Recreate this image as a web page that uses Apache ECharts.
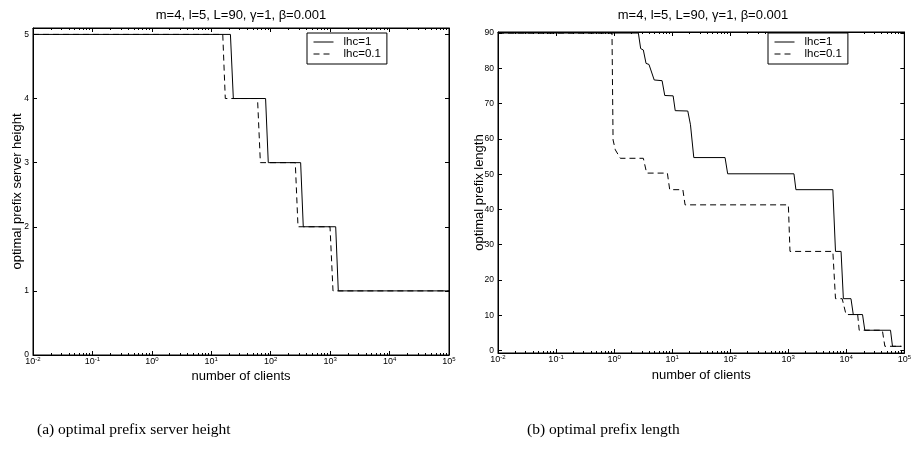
<!DOCTYPE html>
<html>
<head>
<meta charset="utf-8">
<script src="https://cdn.jsdelivr.net/npm/echarts@6/dist/echarts.min.js"></script>
<style>
  html, body { margin: 0; padding: 0; background: #fff; }
  #chart { width: 914px; height: 449px; }
</style>
</head>
<body>
<div id="chart"></div>
<script>
// (a) optimal prefix server height
const heightX_lhc1 = [0.01, 21, 23.5, 82, 91, 319, 353, 1240, 1371, 100000];
const heightY_lhc1 = [5, 5, 4, 4, 3, 3, 2, 2, 1, 1];
const heightX_lhc01 = [0.01, 15.6, 17.2, 60, 67, 259, 288, 995, 1117, 100000];
const heightY_lhc01 = [5, 5, 4, 4, 3, 3, 2, 2, 1, 1];

// (b) optimal prefix length
const lengthX_lhc1 = [0.01, 2.62, 2.87, 3.19, 3.55, 3.99, 4.91, 6.71, 7.46, 10.4, 11.3, 18.6, 20.7, 23.6,
  81.6, 90.5, 1254, 1356, 5870, 6520, 8130, 8910, 12050, 13200, 19050, 20850, 57800, 62500, 89000];
const lengthY_lhc1 = [90, 90, 85.6, 85.2, 81.4, 81.1, 76.7, 76.5, 72.3, 72.2, 68.0, 67.9, 64.0, 54.7,
  54.7, 50.1, 50.1, 45.6, 45.6, 28.1, 28.1, 14.7, 14.7, 10.2, 10.2, 5.75, 5.75, 1.2, 1.2];
const lengthX_lhc01 = [0.01, 0.92, 0.96, 1.05, 1.28, 3.19, 3.64, 8.28, 9.08, 15.3, 16.7, 1005, 1072,
  5870, 6520, 8500, 9900, 15700, 16700, 41800, 46200, 89000];
const lengthY_lhc01 = [90, 90, 59.7, 56.9, 54.5, 54.5, 50.3, 50.3, 45.6, 45.6, 41.3, 41.3, 28.1,
  28.1, 14.7, 14.7, 10.2, 10.2, 5.75, 5.75, 1.2, 1.2];

const heightTicks = [0, 1, 2, 3, 4, 5];
const lengthTicks = [0, 10, 20, 30, 40, 50, 60, 70, 80, 90];
const legendNames = ['lhc=1', 'lhc=0.1'];
const titleText = 'm=4, l=5, L=90, \u03b3=1, \u03b2=0.001';

// minor log ticks (2..9 per decade), as exponents
const minorTicks = [];
for (let n = -2; n < 5; n++) {
  for (let k = 2; k <= 9; k++) minorTicks.push(n + Math.log10(k));
}

const zip = (xs, ys) => xs.map((x, i) => [x, ys[i]]);
const font = 'Liberation Sans';
const dash = [6, 4];

const chart = echarts.init(document.getElementById('chart'));

function logAxis(grid, pos, withLabels, gap) {
  return {
    type: 'log', logBase: 10, gridIndex: grid, position: pos,
    min: 0.01, max: 100000, splitNumber: 7,
    name: withLabels ? 'number of clients' : '',
    nameLocation: 'middle', nameGap: gap || 15, nameMoveOverlap: false,
    nameTextStyle: { fontFamily: font, fontSize: 13, color: '#000' },
    axisLine: { onZero: false, lineStyle: { color: '#000', width: 1 } },
    axisTick: { inside: true, length: 4, lineStyle: { color: '#000' } },
    splitLine: { show: false },
    axisLabel: {
      show: withLabels, margin: 2, color: '#000',
      formatter: v => '{b|10}{e|' + Math.round(Math.log10(v)) + '}',
      rich: {
        b: { fontFamily: font, fontSize: 9, color: '#000', lineHeight: 9, verticalAlign: 'bottom' },
        e: { fontFamily: font, fontSize: 6, color: '#000', lineHeight: 6, padding: [0, 0, 5, 0] }
      }
    }
  };
}

function minorAxis(grid, pos) {
  return {
    type: 'value', gridIndex: grid, position: pos, min: -2, max: 5,
    axisLine: { show: false, onZero: false },
    axisLabel: { show: false },
    splitLine: { show: false },
    axisTick: { inside: true, length: 2, customValues: minorTicks, lineStyle: { color: '#000' } }
  };
}

function yAxis(grid, pos, min, max, ticks, name, gap) {
  const main = pos === 'left';
  return {
    type: 'value', gridIndex: grid, position: pos, min: min, max: max,
    name: main ? name : '', nameLocation: 'middle', nameGap: gap || 10, nameMoveOverlap: false,
    nameTextStyle: { fontFamily: font, fontSize: 13, color: '#000' },
    axisLine: { show: true, onZero: false, lineStyle: { color: '#000', width: 1 } },
    axisTick: { inside: true, length: 4, customValues: ticks, lineStyle: { color: '#000' } },
    splitLine: { show: false },
    axisLabel: {
      show: main, customValues: ticks, margin: 4,
      fontFamily: font, fontSize: 8.5, color: '#000'
    }
  };
}

function line(name, x, y, xi, yi, dashed) {
  return {
    type: 'line', name: name, xAxisIndex: xi, yAxisIndex: yi,
    data: zip(x, y), symbol: 'none', animation: false,
    lineStyle: { color: '#000', width: 1, type: dashed ? dash : 'solid' },
    itemStyle: { color: '#000' }
  };
}

function legend(left) {
  return {
    data: [
      { name: legendNames[0], itemStyle: { opacity: 0 }, lineStyle: { type: 'solid', color: '#000', width: 1 } },
      { name: legendNames[1], itemStyle: { opacity: 0 }, lineStyle: { type: dash, color: '#000', width: 1 } }
    ],
    orient: 'vertical', left: left, top: 33,
    itemWidth: 20, itemHeight: 15, itemGap: 0, padding: [3, 6, 4, 6],
    backgroundColor: '#fff', borderColor: '#000', borderWidth: 1, borderRadius: 0,
    textStyle: { fontFamily: font, fontSize: 11.5, color: '#000', padding: [0, 0, 0, 5] },
    selectedMode: false
  };
}

chart.setOption({
  backgroundColor: '#fff',
  animation: false,
  grid: [
    { left: 33, right: 465, top: 28, bottom: 94, show: true, borderColor: '#000', borderWidth: 1 },
    { left: 498, right: 5, top: 32, bottom: 96, show: true, borderColor: '#000', borderWidth: 1 }
  ],
  xAxis: [
    logAxis(0, 'bottom', true, 15), logAxis(0, 'top', false),
    logAxis(1, 'bottom', true, 16), logAxis(1, 'top', false),
    minorAxis(0, 'bottom'), minorAxis(0, 'top'),
    minorAxis(1, 'bottom'), minorAxis(1, 'top')
  ],
  yAxis: [
    yAxis(0, 'left', 0, 5.1, heightTicks, 'optimal prefix server height', 9.5),
    yAxis(0, 'right', 0, 5.1, heightTicks),
    yAxis(1, 'left', -0.7, 90.3, lengthTicks, 'optimal prefix length', 12.5),
    yAxis(1, 'right', -0.7, 90.3, lengthTicks)
  ],
  legend: [legend(307), legend(768)],
  series: [
    line('lhc=1', heightX_lhc1, heightY_lhc1, 0, 0, false),
    line('lhc=0.1', heightX_lhc01, heightY_lhc01, 0, 0, true),
    line('lhc=1', lengthX_lhc1, lengthY_lhc1, 2, 2, false),
    line('lhc=0.1', lengthX_lhc01, lengthY_lhc01, 2, 2, true)
  ],
  graphic: [
    { type: 'text', x: 241, y: 15, style: { text: titleText, align: 'center', verticalAlign: 'middle',
      fontFamily: font, fontSize: 13, fill: '#000' } },
    { type: 'text', x: 703, y: 15, style: { text: titleText, align: 'center', verticalAlign: 'middle',
      fontFamily: font, fontSize: 13, fill: '#000' } },
    { type: 'text', x: 37, y: 430, style: { text: '(a) optimal prefix server height', verticalAlign: 'middle',
      fontFamily: 'Liberation Serif', fontSize: 15.5, fill: '#000' } },
    { type: 'text', x: 527, y: 430, style: { text: '(b) optimal prefix length', verticalAlign: 'middle',
      fontFamily: 'Liberation Serif', fontSize: 15.5, fill: '#000' } }
  ]
});
</script>
</body>
</html>
